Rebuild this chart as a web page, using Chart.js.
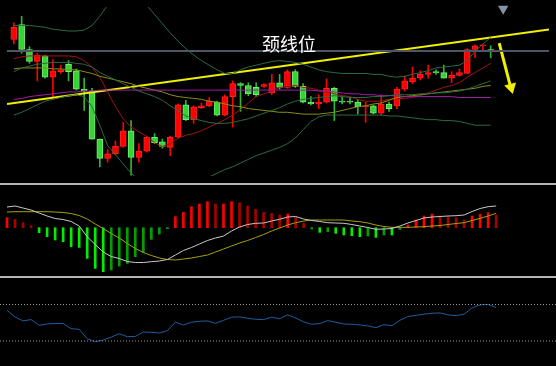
<!DOCTYPE html>
<html>
<head>
<meta charset="utf-8">
<script src="https://cdn.jsdelivr.net/npm/chart.js@4.4.0/dist/chart.umd.min.js"></script>
<style>
  html, body { margin: 0; padding: 0; background: #fff; }
  #wrap { position: relative; width: 556px; height: 366px; background: #000; overflow: hidden; }
  canvas { position: absolute; left: 0; }
  .sep { position: absolute; left: 0; width: 556px; height: 2px; background: #b4b4b4; }
  #label { position: absolute; left: 262px; top: 33px; color: #fff; font-family: "Noto Sans CJK SC", sans-serif; font-size: 18px; line-height: 20px; }
</style>
</head>
<body>
<div id="wrap">
  <canvas id="mainChart" width="556" height="183" style="top:0"></canvas>
  <div class="sep" style="top:183px"></div>
  <canvas id="macdChart" width="556" height="91" style="top:185px"></canvas>
  <div class="sep" style="top:276px"></div>
  <canvas id="rsiChart" width="556" height="88" style="top:278px"></canvas>
  <div id="label">颈线位</div>
</div>
<script>
// candles
const candleOpen = [165,181,154,141,147,124,130,138,131,111,109,57,36,41,49,66,37,44,59,54,48,59,94,78,91,93,97,83,103,117,115,113,114,107,118,113,130,114,97,95,97,112,98,98,97,92,93,85,95,93,111,119,123,127,130,129,123,126,128,154,158,154];
const candleHigh = [183,190,157,150,148,143,137,142,133,123,112,57,46,55,75,77,52,60,63,57,60,95,99,93,96,102,98,105,120,118,118,118,117,127,127,132,132,117,103,105,122,113,103,102,100,97,94,105,97,113,125,135,131,137,132,137,130,133,155,159,159,158];
const candleLow = [160,150,139,120,123,103,128,120,110,88,57,27,32,40,48,18,32,43,52,47,39,58,77,74,90,92,82,82,70,87,104,103,113,105,111,112,113,96,94,90,96,77,95,95,84,75,84,83,87,90,109,117,121,123,127,123,118,125,128,145,152,145];
const candleClose = [178,154,141,148,124,131,132,130,111,109,57,36,41,49,66,37,44,59,53,49,59,94,78,92,93,98,83,103,117,115,106,105,116,118,113,130,114,97,95,97,112,98,97,97,92,93,85,95,90,111,120,123,127,129,129,123,126,129,154,158,159,152];

// moving averages and bands on the price panel
const bollUpper = [180,180,180,179,178,176,175,174,174,175,180,190,202,210,214,214,210,202,192,182,172,163,155,148,142,137,132,128,128,132,135,137,139,141,142,141,140,138,135,132,130,129,128,128,128,128,127,127,125,124,125,127,129,131,134,135,136,137,142,152,160,167];
const bollMid = [130,134,136,138,139,140,140,140,139,138,135,129,125,121,117,113,109,106,103,99,93,88,82,79,77,75,74,74,75,77,79,82,85,88,91,95,98,100,101,102,103,104,103,102,102,102,103,103,104,105,105,105,106,106,107,107,108,109,111,114,117,120];
const bollLower = [83,86,90,94,98,100,102,104,105,103,92,72,50,40,30,20,13,7,4,2,2,3,5,8,12,16,20,24,27,31,35,39,42,45,48,52,58,67,76,81,83,83,83,83,83,83,83,83,82,82,81,80,79,78,78,77,77,76,74,72,72,72];
const maShort = [144,146,147,147,147,147,147,147,146,142,135,124,108,92,79,70,65,60,53,49,52,58,61,63,66,70,74,78,83,89,96,103,106,109,113,114,115,113,112,110,108,106,104,103,100,98,98,98,100,101,101,102,104,107,110,113,115,118,124,129,134,139];
const maMid = [133,134,134,134,134,133,133,132,132,130,128,125,123,121,119,117,114,112,110,108,105,103,102,101,100,98,97,95,93,92,90,89,88,87,86,86,85,84,84,84,85,86,88,90,92,93,95,96,99,102,103,104,105,106,107,108,109,110,111,112,114,115];
const maLong = [100,101,103,104,105,106,107,108,108,109,109,110,110,110,110,110,110,110,110,110,110,110,110,110,110,110,110,110,110,110,110,110,110,110,110,110,110,110,110,109,109,108,107,106,106,105,105,104,104,104,103,103,103,103,103,103,103,102,102,102,102,102];

// drawn lines
const necklineX = [-0.873, 68.46];
const necklineY = [95, 175.6];
const lastPrice = 152.3;
const arrowX = [62.09, 63.47];
const arrowY = [161, 116];
const arrowHead = { x: 63.6, y: 113 };
const topMarker = { x: 62.6, y: 198 };

// MACD
const macdHist = [10,8.3,5,2,-5,-9,-12.3,-14,-19,-19.7,-30.7,-40.7,-44,-42.3,-38.3,-35.7,-29,-25,-11.7,-6.3,-1,11,15.3,21,23.7,26,23.7,23.7,26,25,21.7,18.3,15.3,14.3,12.7,13.7,10.3,4.3,-1.3,-4.7,-4,-5.7,-7.3,-8,-9,-8.3,-9.7,-7.3,-7.3,-1.7,2.7,7.7,11.7,13.7,11.7,11,10,7.7,11.7,13.7,15,12.7];
const macdDif = [20.7,21.7,19.7,17.7,14.7,11.7,9.2,8.2,6.2,1.7,-9,-16.8,-24.3,-28.8,-30.8,-33.8,-34.8,-34.8,-34,-33.3,-31.8,-27.3,-22.8,-19.8,-16.3,-12.8,-10.3,-8.3,-3.3,0.7,3.2,4.4,4.7,6.7,8.4,10.7,11.2,8.7,7.2,6.2,5,4.7,4.4,3.2,1.7,0.2,-1.6,-1.3,-0.8,1.7,4.7,7.2,9.7,10.7,11.2,11.7,12,12.7,16.2,19.2,21,21.7];
const macdDea = [15.7,16,16,16,16,16,15.7,15.2,14.2,12.2,8.7,3.7,-0.8,-5.8,-10.3,-15.8,-20.8,-24.8,-27.8,-30.3,-31.8,-32.3,-31.3,-30.3,-28.8,-27.3,-24.3,-21.3,-18.3,-15.3,-12.8,-9.8,-6.8,-3.3,-0.3,2.7,5,6.7,7.7,7.7,7.7,7.7,7.7,6.7,6,4.7,2.7,1.2,0.4,0.4,0.4,0.7,1,1.7,2.2,3.2,4.2,5,7.2,9.4,11.7,14.4];

// RSI
const rsiValues = [63.7,56.4,52,53.5,47.2,48.7,49.1,49.1,43.5,42.8,32.5,29.2,31,34.3,38,34.7,35,39.9,39.5,38.8,41.3,50.5,47.6,50.5,51.6,52,49.4,52.7,56.1,56.4,54.9,53.8,53.5,56.1,54.5,58.6,55.3,50.9,48.3,49.1,52.4,50.5,48.7,48.3,47.6,46.5,44.6,47.9,46.8,52.7,56.8,58.2,59.4,60.4,60.8,58.6,57.8,59.4,66.3,69.6,70,66.7];
const rsiLevels = [70, 30];

const xMin = -0.873;
const xMax = 68.46;

function points(values) {
  return values.map((v, i) => ({ x: i, y: v }));
}

function lineSet(data, color, width, dash) {
  return {
    type: "line",
    data: data,
    borderColor: color,
    borderWidth: width || 1,
    borderDash: dash || [],
    pointRadius: 0,
    tension: 0,
    fill: false,
    order: 0,
  };
}

function markerSet(pt, color, radius, rotation) {
  return {
    type: "line",
    data: [pt],
    showLine: false,
    pointStyle: "triangle",
    pointRadius: radius,
    pointRotation: rotation,
    pointBackgroundColor: color,
    pointBorderColor: color,
    pointBorderWidth: 0,
    clip: false,
    order: 0,
  };
}

function baseOptions(yMin, yMax) {
  return {
    responsive: false,
    animation: false,
    devicePixelRatio: 1,
    events: [],
    layout: { padding: 0 },
    plugins: { legend: { display: false }, tooltip: { enabled: false } },
    scales: {
      x: { type: "linear", min: xMin, max: xMax, offset: false, display: false },
      y: { min: yMin, max: yMax, display: false },
    },
  };
}

// price panel
function drawMain() {
  const up = candleClose.map((c, i) => c >= candleOpen[i]);
  const bodyFill = up.map((u) => (u ? "#ff0000" : "#36d236"));
  const bodyEdge = up.map((u) => (u ? "#ff2020" : "#70f070"));
  const wickColor = up.map((u) => (u ? "#ff0000" : "#2fb52f"));

  const datasets = [
    lineSet(points(bollUpper), "#2c6a44"),
    lineSet(points(bollMid), "#2c6a44"),
    lineSet(points(bollLower), "#2c6a44"),
    lineSet(points(maLong), "#a020a8"),
    lineSet(points(maMid), "#8c8c14"),
    lineSet(points(maShort), "#a01414"),
    lineSet([{ x: xMin, y: lastPrice }, { x: xMax, y: lastPrice }], "#4e5664", 2),
    lineSet(necklineX.map((x, i) => ({ x: x, y: necklineY[i] })), "#f0f000", 2),
    lineSet(arrowX.map((x, i) => ({ x: x, y: arrowY[i] })), "#f0f000", 3),
    markerSet(arrowHead, "#f0f000", 7, 165.5),
    markerSet(topMarker, "#8595a6", 6, 180),
    {
      type: "bar",
      data: candleOpen.map((o, i) => ({ x: i, y: [o, candleClose[i]] })),
      backgroundColor: bodyFill,
      borderColor: bodyEdge,
      borderWidth: 1,
      borderSkipped: false,
      barThickness: 6,
      grouped: false,
      order: 2,
    },
    {
      type: "bar",
      data: candleLow.map((l, i) => ({ x: i, y: [l, candleHigh[i]] })),
      backgroundColor: wickColor,
      borderWidth: 0,
      barThickness: 1,
      grouped: false,
      order: 3,
    },
  ];

  new Chart(document.getElementById("mainChart"), {
    type: "bar",
    data: { datasets: datasets },
    options: baseOptions(17, 200),
  });
}

// MACD panel
function drawMacd() {
  const colors = macdHist.map((v, i) => {
    const growing = i === 0 || Math.abs(v) >= Math.abs(macdHist[i - 1]);
    if (v >= 0) return growing ? "#ff0000" : "#a80000";
    return growing ? "#00ee00" : "#00a000";
  });

  new Chart(document.getElementById("macdChart"), {
    type: "bar",
    data: {
      datasets: [
        lineSet(points(macdDif), "#c8c8c8"),
        lineSet(points(macdDea), "#a8a010"),
        {
          type: "bar",
          data: points(macdHist),
          backgroundColor: colors,
          borderWidth: 0,
          barThickness: 2,
          grouped: false,
          order: 2,
        },
      ],
    },
    options: baseOptions(-48.3, 42.7),
  });
}

// RSI panel
function drawRsi() {
  const datasets = rsiLevels.map((lvl) =>
    lineSet([{ x: xMin, y: lvl }, { x: xMax, y: lvl }], "#9a9a9a", 1, [1, 2])
  );
  datasets.push(lineSet(points(rsiValues), "#1f5c9c"));

  new Chart(document.getElementById("rsiChart"), {
    type: "line",
    data: { datasets: datasets },
    options: baseOptions(2.6, 99.04),
  });
}

drawMain();
drawMacd();
drawRsi();
</script>
</body>
</html>
